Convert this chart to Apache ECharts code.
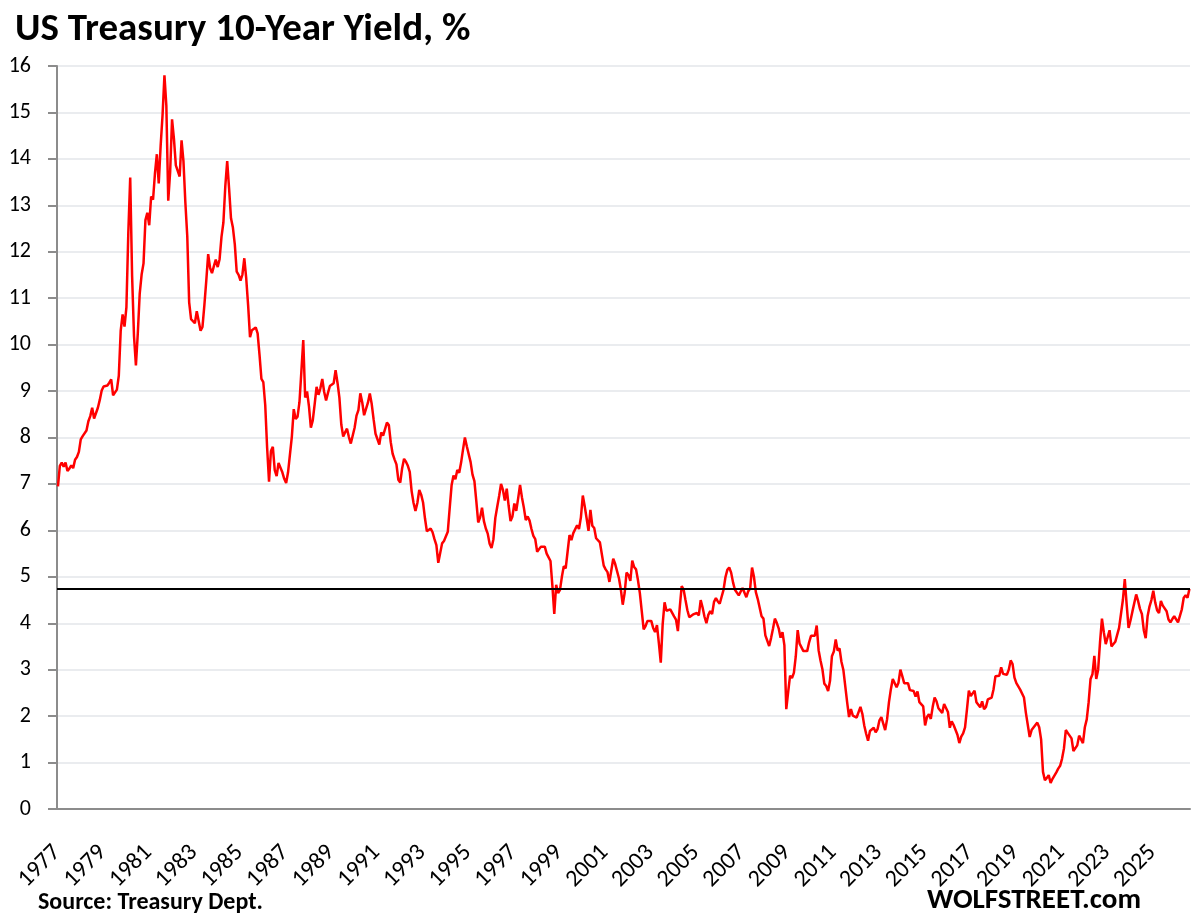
<!DOCTYPE html>
<html>
<head>
<meta charset="utf-8">
<script src="https://cdn.jsdelivr.net/npm/echarts@6/dist/echarts.min.js"></script>
<style>
html,body{margin:0;padding:0;background:#fff}
#c{width:1197px;height:922px}
</style>
</head>
<body>
<div id="c"></div>
<script>
// ---- data: US Treasury 10-year yield, monthly, % ----
const startYear = 1977;
const y1977to1986 = [
  6.95, 7.39, 7.46, 7.37, 7.46, 7.28, 7.33, 7.40, 7.34, 7.52, 7.58, 7.69,
  7.96, 8.03, 8.04, 8.15, 8.35, 8.46, 8.64, 8.41, 8.42, 8.64, 8.81, 9.01,
  9.10, 9.10, 9.12, 9.18, 9.25, 8.91, 8.95, 9.03, 9.33, 10.30, 10.65, 10.39,
  10.80, 12.41, 13.60, 11.47, 10.18, 9.55, 10.25, 11.10, 11.51, 11.75, 12.68, 12.84,
  12.57, 13.19, 13.12, 13.68, 14.10, 13.47, 14.28, 14.94, 15.80, 15.15, 13.10, 13.72,
  14.85, 14.43, 13.86, 13.87, 13.62, 14.40, 13.95, 13.06, 12.34, 10.91, 10.55, 10.54,
  10.46, 10.72, 10.51, 10.30, 10.38, 10.85, 11.38, 11.95, 11.65, 11.54, 11.69, 11.83,
  11.67, 11.84, 12.32, 12.63, 13.41, 13.95, 13.36, 12.72, 12.52, 12.16, 11.57, 11.50,
  11.38, 11.51, 11.86, 11.43, 10.85, 10.16, 10.31, 10.33, 10.37, 10.24, 9.78, 9.26,
  9.19, 8.70, 7.78, 7.05, 7.71, 7.80, 7.30, 7.17, 7.45, 7.43, 7.25, 7.11
];
const y1987to1996 = [
  7.02, 7.25, 7.25, 8.02, 8.61, 8.40, 8.45, 8.76, 9.42, 10.10, 8.86, 8.99,
  8.67, 8.21, 8.37, 8.72, 9.09, 8.92, 9.06, 9.26, 8.98, 8.80, 8.96, 9.11,
  9.09, 9.17, 9.45, 9.18, 8.86, 8.28, 8.02, 8.11, 8.19, 8.01, 7.87, 7.84,
  8.21, 8.47, 8.59, 8.95, 8.76, 8.48, 8.47, 8.75, 8.95, 8.72, 8.39, 8.08,
  8.09, 7.85, 8.11, 8.04, 8.07, 8.32, 8.27, 7.90, 7.65, 7.53, 7.42, 7.09,
  7.03, 7.34, 7.54, 7.48, 7.39, 7.26, 6.84, 6.59, 6.42, 6.59, 6.87, 6.77,
  6.60, 6.26, 5.98, 5.97, 6.04, 5.96, 5.81, 5.68, 5.30, 5.33, 5.72, 5.77,
  5.75, 5.97, 6.48, 6.97, 7.18, 7.10, 7.30, 7.24, 7.46, 7.74, 8.00, 7.81,
  7.78, 7.47, 7.20, 7.06, 6.63, 6.17, 6.28, 6.49, 6.20, 6.04, 5.93, 5.71,
  5.62, 5.81, 6.27, 6.51, 6.74, 7.00, 6.87, 6.64, 6.90, 6.53, 6.20, 6.30
];
const y1997to2006 = [
  6.58, 6.42, 6.69, 6.98, 6.71, 6.49, 6.22, 6.30, 6.21, 6.03, 5.88, 5.81,
  5.54, 5.57, 5.65, 5.64, 5.65, 5.50, 5.46, 5.34, 4.81, 4.20, 4.83, 4.65,
  4.72, 5.00, 5.23, 5.18, 5.54, 5.90, 5.79, 5.94, 5.92, 6.11, 6.03, 6.28,
  6.75, 6.52, 6.26, 5.99, 6.44, 6.10, 6.05, 5.83, 5.80, 5.74, 5.72, 5.24,
  5.16, 5.10, 4.89, 5.14, 5.39, 5.28, 5.24, 4.97, 4.73, 4.40, 4.65, 5.09,
  5.04, 4.91, 5.35, 5.21, 5.16, 4.93, 4.65, 4.26, 3.87, 3.94, 4.05, 4.03,
  4.05, 3.90, 3.81, 3.96, 3.57, 3.15, 3.98, 4.45, 4.27, 4.29, 4.30, 4.27,
  4.15, 4.08, 3.83, 4.35, 4.80, 4.73, 4.50, 4.28, 4.13, 4.10, 4.19, 4.23,
  4.22, 4.17, 4.50, 4.34, 4.14, 4.00, 4.18, 4.26, 4.20, 4.46, 4.54, 4.47,
  4.42, 4.57, 4.72, 4.99, 5.15, 5.20, 5.09, 4.88, 4.72, 4.73, 4.60, 4.56
];
const y2007to2016 = [
  4.76, 4.72, 4.56, 4.69, 4.75, 5.20, 5.00, 4.67, 4.52, 4.53, 4.15, 4.10,
  3.74, 3.74, 3.51, 3.68, 3.88, 4.10, 4.01, 3.89, 3.69, 3.81, 3.53, 2.15,
  2.52, 2.87, 2.82, 2.93, 3.29, 3.85, 3.56, 3.59, 3.40, 3.39, 3.40, 3.59,
  3.73, 3.69, 3.73, 3.95, 3.42, 3.20, 3.01, 2.70, 2.65, 2.54, 2.76, 3.29,
  3.39, 3.65, 3.41, 3.46, 3.17, 3.00, 3.00, 2.30, 1.98, 2.15, 2.01, 1.98,
  1.97, 1.97, 2.20, 2.05, 1.80, 1.62, 1.47, 1.68, 1.72, 1.75, 1.65, 1.72,
  1.91, 1.98, 1.96, 1.70, 1.93, 2.30, 2.58, 2.80, 2.81, 2.62, 2.72, 3.00,
  2.86, 2.71, 2.72, 2.71, 2.56, 2.60, 2.54, 2.42, 2.53, 2.30, 2.33, 2.21,
  1.80, 1.98, 2.04, 1.94, 2.20, 2.40, 2.32, 2.17, 2.17, 2.07, 2.26, 2.24,
  2.09, 1.75, 1.89, 1.81, 1.81, 1.60, 1.42, 1.56, 1.63, 1.76, 2.14, 2.55
];
const y2017to2026 = [
  2.43, 2.42, 2.55, 2.30, 2.30, 2.19, 2.32, 2.15, 2.20, 2.36, 2.35, 2.40,
  2.58, 2.86, 2.84, 2.87, 3.05, 2.91, 2.89, 2.89, 3.00, 3.20, 3.12, 2.83,
  2.71, 2.68, 2.57, 2.53, 2.40, 2.07, 2.06, 1.55, 1.70, 1.71, 1.81, 1.86,
  1.76, 1.50, 0.80, 0.62, 0.67, 0.73, 0.56, 0.65, 0.68, 0.79, 0.87, 0.93,
  1.08, 1.30, 1.70, 1.64, 1.62, 1.52, 1.25, 1.28, 1.37, 1.58, 1.56, 1.42,
  1.76, 1.93, 2.30, 2.80, 2.90, 3.30, 2.80, 3.00, 3.60, 4.10, 3.80, 3.55,
  3.53, 3.85, 3.50, 3.46, 3.60, 3.75, 3.90, 4.20, 4.50, 4.95, 4.40, 3.90,
  4.06, 4.25, 4.21, 4.62, 4.48, 4.31, 4.20, 3.85, 3.68, 4.15, 4.36, 4.50,
  4.70, 4.45, 4.28, 4.22, 4.48, 4.38, 4.39, 4.26, 4.08, 4.02, 4.09, 4.15,
  4.18, 4.02, 4.05, 4.30, 4.55, 4.60, 4.55, 4.74
];
const refLevel = 4.74;            // horizontal black reference line
const xMinYear = 1977, xMaxYear = 2026.65, xStepYears = 2;
const yMin = 0, yMax = 16, yStep = 1;
const titleText = 'US Treasury 10-Year Yield, %';
const sourceText = 'Source: Treasury Dept.';
const brandText = 'WOLFSTREET.com';

// ---- build series ----
const yields = [].concat(y1977to1986, y1987to1996, y1997to2006, y2007to2016, y2017to2026);
const points = yields.map((v, i) => [startYear + (i + 0.5) / 12, v]);

const FONT = 'Carlito, Calibri, Lato, "Open Sans", sans-serif';
const chart = echarts.init(document.getElementById('c'), null, {renderer: 'canvas'});
chart.setOption({
  animation: false,
  backgroundColor: '#ffffff',
  title: [
    {text: titleText, left: 10, top: 6,
     textStyle: {fontFamily: FONT, fontSize: 39, fontWeight: 'bold', color: '#000'}},
    {text: sourceText, left: 33, top: 886,
     textStyle: {fontFamily: FONT, fontSize: 24, fontWeight: 'bold', color: '#000'}},
    {text: brandText, left: 922, top: 881,
     textStyle: {fontFamily: FONT, fontSize: 29, fontWeight: 'bold', color: '#000'}}
  ],
  grid: {left: 57, right: 7, top: 66, bottom: 113},
  xAxis: {
    type: 'value', min: xMinYear, max: xMaxYear, interval: xStepYears,
    axisLine: {show: true, lineStyle: {color: '#8c8c8c', width: 2}},
    axisTick: {show: false},
    splitLine: {show: false},
    axisLabel: {
      rotate: 45, margin: 40, fontFamily: FONT, fontSize: 24, color: '#000',
      showMaxLabel: false,
      formatter: v => Number.isInteger(v) ? String(v) : ''
    }
  },
  yAxis: {
    type: 'value', min: yMin, max: yMax, interval: yStep,
    axisLine: {show: true, lineStyle: {color: '#8c8c8c', width: 2}},
    axisTick: {show: true, length: 9, lineStyle: {color: '#8c8c8c', width: 2}},
    splitLine: {show: true, lineStyle: {color: '#e3e6ea', width: 1.5}},
    axisLabel: {margin: 26, fontFamily: FONT, fontSize: 22, color: '#000'}
  },
  series: [{
    type: 'line',
    data: points,
    showSymbol: false,
    lineStyle: {color: '#ff0000', width: 2.5},
    markLine: {
      silent: true, symbol: 'none',
      label: {show: false},
      lineStyle: {color: '#000', width: 2, type: 'solid'},
      data: [{yAxis: refLevel}]
    },
    z: 3
  }]
});
</script>
</body>
</html>
